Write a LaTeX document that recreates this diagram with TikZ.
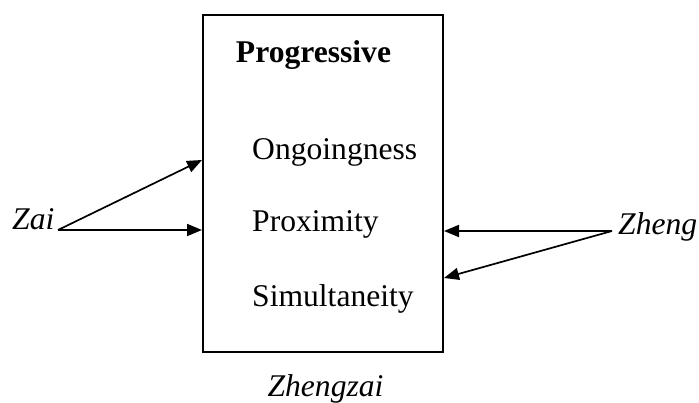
\documentclass[tikz,border=0pt]{standalone}
\usepackage{fontspec}
\setmainfont{Liberation Serif}
\usetikzlibrary{arrows.meta}
\tikzset{
  lbl/.style={inner sep=0pt, font=\fontsize{31.6}{38}\selectfont},
  ital/.style={lbl, font=\fontsize{31.6}{38}\selectfont\itshape},
  conn/.style={line width=1.7pt, -{Triangle[length=15pt,width=12pt]}},
  boxstyle/.style={draw, line width=2pt, minimum width=240pt, minimum height=337pt, inner sep=0pt}
}
\begin{document}
\begin{tikzpicture}[x=1pt,y=-1pt]
\useasboundingbox (0,0) rectangle (699,403);
\node[boxstyle] (box) at (323,183.5) {};
\node[lbl, anchor=base, font=\fontsize{31.6}{38}\selectfont\bfseries] (prog) at (313.5,63) {Progressive};
\node[lbl, anchor=base west] (ong) at (252,160) {Ongoingness};
\node[lbl, anchor=base west] (prox) at (252,232) {Proximity};
\node[lbl, anchor=base west] (sim) at (252,307) {Simultaneity};
\node[ital, anchor=base west] (zai) at (12,230) {Zai};
\node[ital, anchor=base west] (zheng) at (618,235) {Zheng};
\node[ital, anchor=base] (zhengzai) at (325.5,396) {Zhengzai};
\coordinate (zaiend) at (58,230);
\coordinate (zhengend) at (612,231);
\coordinate (tA) at (box.west |- 0,160);
\coordinate (tB) at (box.west |- 0,230);
\coordinate (tC) at (box.east |- 0,231);
\coordinate (tD) at (box.east |- 0,278);
\draw[conn] (zaiend) -- (tA);
\draw[conn] (zaiend) -- (tB);
\draw[conn] (zhengend) -- (tC);
\draw[conn] (zhengend) -- (tD);
\end{tikzpicture}
\end{document}
